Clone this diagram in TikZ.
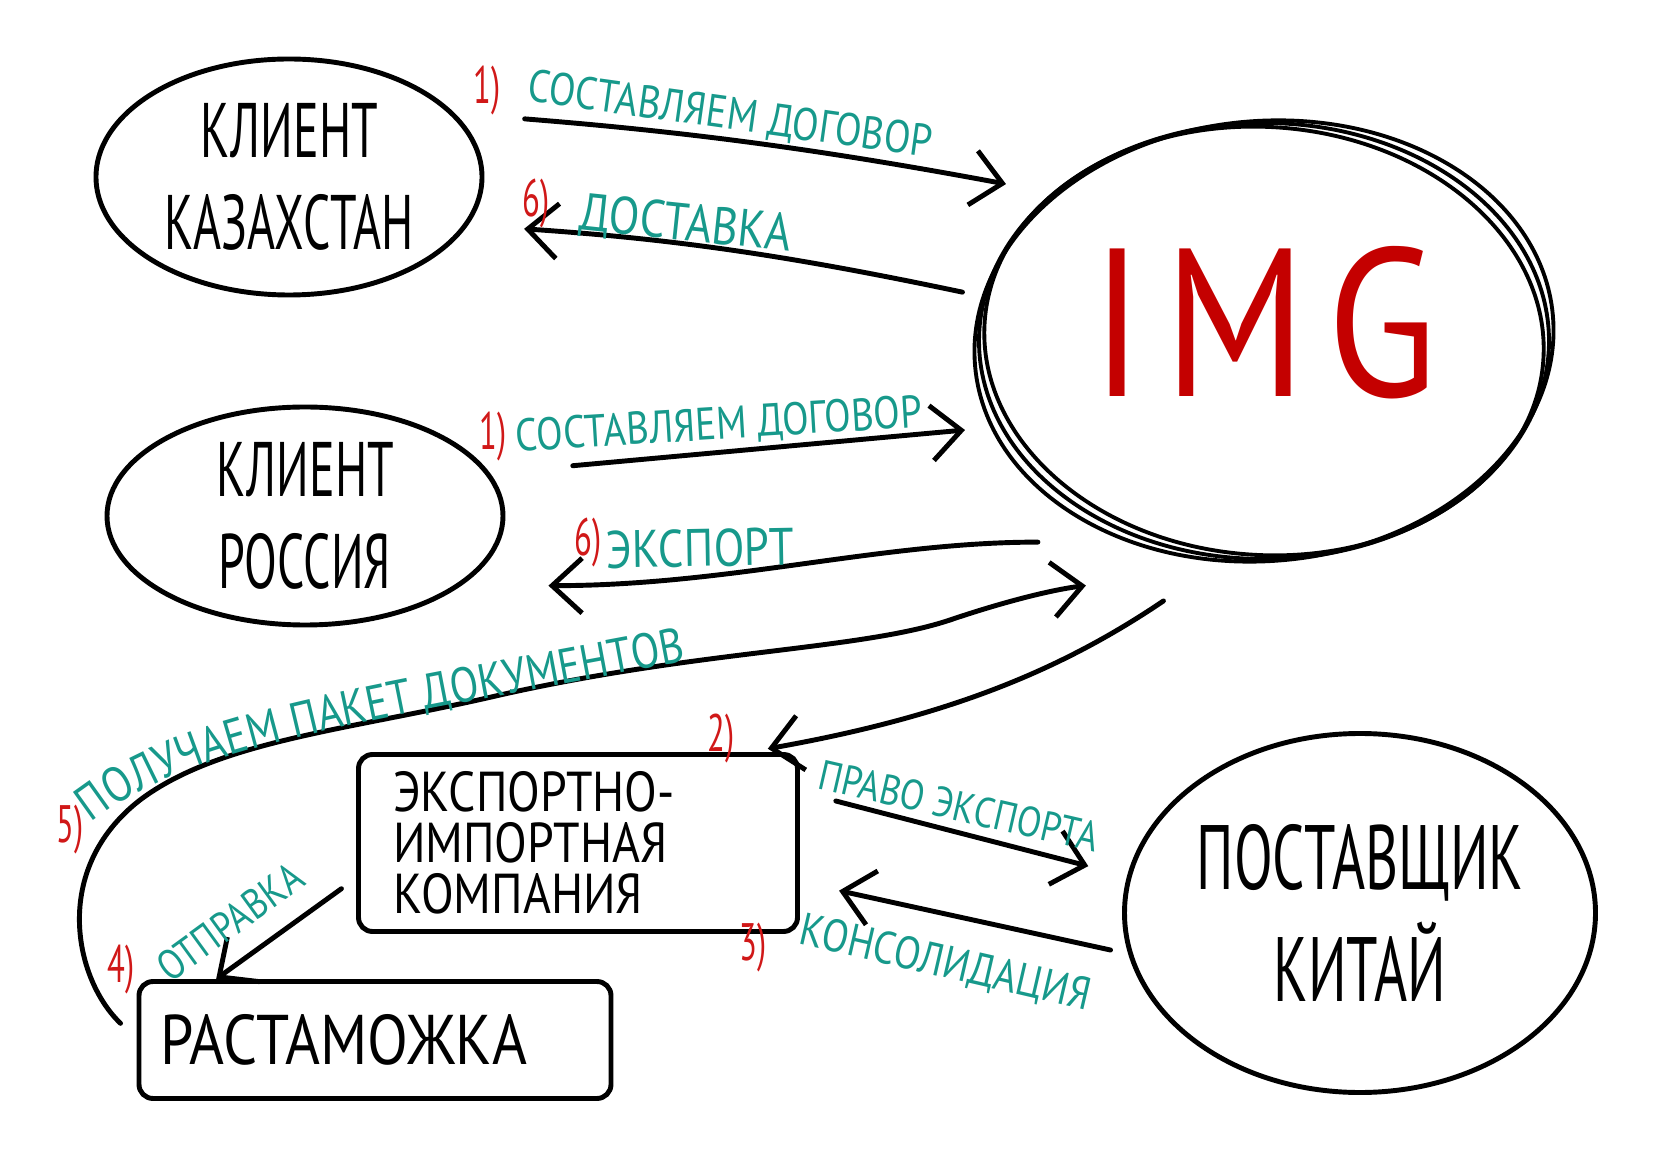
\documentclass[tikz,border=0pt]{standalone}
\usepackage{fontspec}
\newfontfamily\hand{PT Sans}[FakeStretch=0.85]
\newfontfamily\handn{PT Sans}[FakeStretch=0.62]
\usetikzlibrary{arrows.meta,shapes.geometric,decorations.text}
\definecolor{tealc}{HTML}{17998B}
\definecolor{redc}{HTML}{D01818}
\definecolor{imgred}{HTML}{C40000}

\begin{document}
\begin{tikzpicture}[blob/.style={draw,ellipse,line width=1.4pt,inner sep=0pt,align=center,font=\handn\fontsize{22}{26}\selectfont},card/.style={draw,rectangle,line width=1.4pt,rounded corners=4pt,align=left},a/.style={-{Straight Barb[length=3mm,width=5.5mm]},line width=1.4pt,line cap=round},lbl/.style={text=tealc,font=\hand\fontsize{13}{13}\selectfont,inner sep=0pt},num/.style={text=redc,font=\handn\fontsize{15}{15}\selectfont,inner sep=0pt}]
\useasboundingbox (0,0) rectangle (16.8,-11.67);
\node[blob,minimum width=3.86cm,minimum height=2.36cm] (kaz) at (2.89,-1.77) {КЛИЕНТ\\КАЗАХСТАН};
\node[blob,minimum width=3.96cm,minimum height=2.18cm] (rus) at (3.05,-5.16) {КЛИЕНТ\\РОССИЯ};
\node[blob,minimum width=5.7cm,minimum height=4.36cm,line width=1.1pt,text=imgred,text depth=0.4cm,font=\hand\addfontfeature{LetterSpace=10}\fontsize{60}{60}\selectfont] (img) at (12.64,-3.41) {IMG};
\draw[line width=1.1pt] (img.center) ellipse [x radius=2.9,y radius=2.2,rotate=5];
\draw[line width=1.1pt] (img.center) ellipse [x radius=2.8,y radius=2.14,rotate=-4];
\node[blob,minimum width=4.71cm,minimum height=3.59cm,font=\handn\fontsize{26}{32}\selectfont] (sup) at (13.6,-9.13) {ПОСТАВЩИК\\КИТАЙ};
\node[card,minimum width=4.39cm,minimum height=1.77cm,text width=3.7cm,font=\hand\fontsize{16}{14.5}\selectfont] (eic) at (5.78,-8.43) {ЭКСПОРТНО-\\ИМПОРТНАЯ\\КОМПАНИЯ};
\node[card,minimum width=4.72cm,minimum height=1.17cm,text width=4.3cm,font=\hand\fontsize{20}{20}\selectfont] (rast) at (3.75,-10.4) {РАСТАМОЖКА};
\draw[a,shorten <=7mm,shorten >=4.7mm] (kaz.21) to[bend left=3] (img.145);
\draw[a,shorten <=2.1mm,shorten >=5.6mm] (img.171) to[bend right=4] (kaz.-15);
\draw[a,shorten <=8.3mm,shorten >=3.5mm] (rus.13) -- (img.198);
\draw[a,shorten <=11mm,shorten >=8.7mm] (img.240) to[out=180,in=0] (rus.-24);
\draw[a,shorten <=7.5mm,shorten >=1.9mm] (img.260) to[bend left=12] (eic.28);
\draw[a,shorten <=3.7mm,shorten >=4mm] (eic.13) -- (sup.171);
\draw[a,shorten <=1.8mm,shorten >=4mm] (sup.190) -- (eic.-10);
\draw[a,shorten <=1.8mm] (eic.189) -- (rast.159);
\draw[a] ([xshift=-1.6mm]rast.176) .. controls (0.75,-9.8) and (0.5,-8.7) .. (1.4,-8.0) .. controls (2.2,-7.4) and (3.5,-7.3) .. (5.0,-6.95) .. controls (7.0,-6.5) and (8.6,-6.5) .. (9.5,-6.2) .. controls (10.0,-6.03) and (10.5,-5.9) .. ([shift={(-0.385,-0.524)}]img.234);
\node[lbl,rotate=-8] (l1) at (7.30,-1.16) {СОСТАВЛЯЕМ ДОГОВОР};
\node[num] (n1) at (4.87,-0.91) {1)};
\node[lbl,rotate=-6,font=\hand\fontsize{15}{15}\selectfont] (l2) at (6.86,-2.25) {ДОСТАВКА};
\node[num] (n2) at (5.36,-2.04) {6)};
\node[lbl,rotate=3.5] (l3) at (7.19,-4.26) {СОСТАВЛЯЕМ ДОГОВОР};
\node[num] (n3) at (4.93,-4.37) {1)};
\node[lbl,rotate=1,font=\hand\fontsize{15}{15}\selectfont] (l4) at (7.00,-5.48) {ЭКСПОРТ};
\node[num] (n4) at (5.88,-5.43) {6)};
\node[lbl,rotate=-13,font=\hand\fontsize{12}{12}\selectfont] (l6) at (9.59,-8.06) {ПРАВО ЭКСПОРТА};
\node[num] (n6) at (7.21,-7.39) {2)};
\node[lbl,rotate=-13] (l7) at (9.45,-9.64) {КОНСОЛИДАЦИЯ};
\node[num] (n7) at (7.53,-9.48) {3)};
\node[lbl,rotate=36,font=\hand\fontsize{12}{12}\selectfont] (l8) at (2.30,-9.22) {ОТПРАВКА};
\node[num] (n8) at (1.21,-9.70) {4)};
\node[num] (n5) at (0.70,-8.30) {5)};
\path[decorate,decoration={text along path,text color=tealc,text={|\hand\fontsize{14}{14}\selectfont|ПОЛУЧАЕМ ПАКЕТ ДОКУМЕНТОВ}}] (0.91,-8.23) .. controls (1.9,-7.45) and (3.5,-7.25) .. (6.96,-6.59);
\end{tikzpicture}
\end{document}
